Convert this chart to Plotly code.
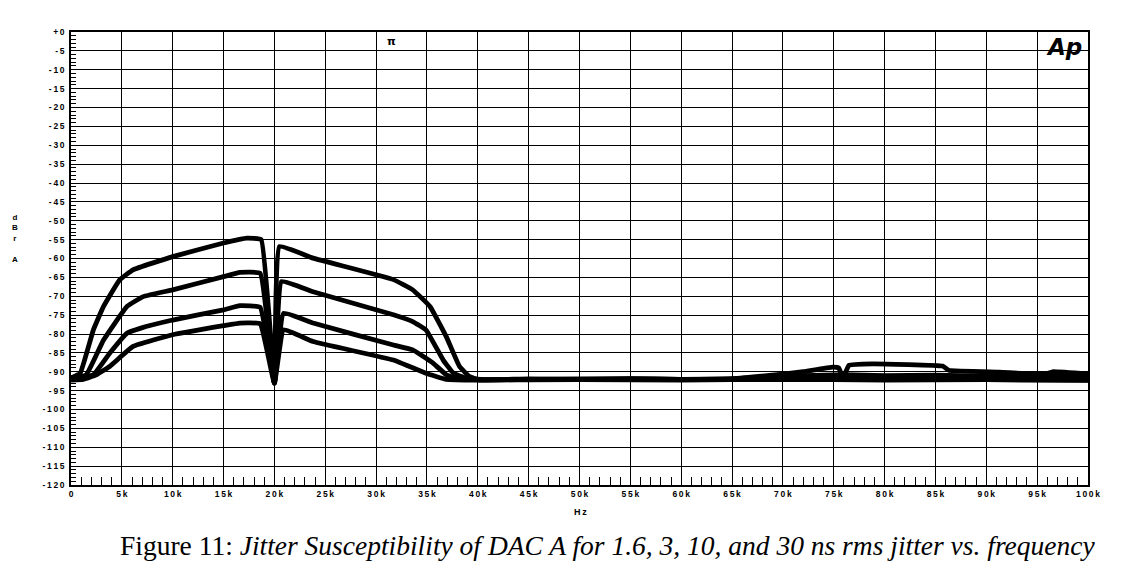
import plotly.graph_objects as go

# Frequencies in kHz, levels in dBr A
freq_30ns = [0, 0.9, 2.2, 3.2, 4.8, 6.1, 10.0, 15.0, 17.3, 18.7, 20.0, 20.5, 23.8, 31.7, 33.6,
             35.3, 36.9, 38.2, 39.2, 40.2, 45, 50, 55, 60, 65, 70, 72, 74.9, 75.5, 75.9, 76.5,
             78.8, 85.7, 86.3, 91.3, 95.8, 96.5, 100]
db_30ns = [-91.6, -90.4, -78.9, -72.7, -65.6, -63.0, -59.5, -55.9, -54.6, -55.0, -93.0, -56.8,
           -59.9, -65.6, -68.3, -72.7, -80.7, -88.6, -91.3, -92.2, -92.0, -92.1, -91.9, -92.0,
           -91.8, -90.6, -90.0, -88.8, -89.0, -91.7, -88.3, -87.9, -88.5, -89.6, -90.1, -90.7,
           -90.0, -90.6]

freq_10ns = [0, 1.5, 3.2, 5.5, 7.1, 10.0, 15.0, 16.6, 18.6, 20.0, 20.7, 23.8, 31.7, 33.6, 34.9,
             36.6, 37.6, 38.9, 41, 45, 50, 55, 60, 65, 69, 72, 76, 80, 85, 90, 95, 100]
db_10ns = [-91.8, -90.8, -81.6, -72.7, -70.1, -68.3, -64.8, -63.7, -63.9, -93.0, -66.1, -68.8,
           -74.9, -76.7, -78.9, -86.9, -90.4, -91.7, -92.1, -91.9, -92.0, -91.8, -92.0, -91.9,
           -91.6, -91.0, -90.8, -91.0, -90.9, -91.1, -91.0, -91.2]

freq_3ns = [0, 2.2, 3.8, 5.5, 6.8, 10.0, 15.0, 16.6, 18.6, 20.0, 20.9, 23.8, 31.7, 33.6, 35.6,
            36.9, 38.2, 42, 50, 60, 70, 80, 90, 100]
db_3ns = [-92.0, -90.8, -85.1, -79.8, -78.5, -76.3, -73.6, -72.5, -72.9, -93.0, -74.5, -77.1,
          -82.9, -84.2, -87.7, -90.8, -92.0, -92.1, -91.9, -92.0, -92.1, -92.0, -92.1, -92.2]

freq_1p6ns = [0, 1.2, 2.5, 3.8, 6.1, 10.0, 15.0, 16.6, 18.6, 20.0, 20.9, 23.8, 31.7, 34.9,
              36.9, 40, 50, 60, 70, 80, 90, 100]
db_1p6ns = [-92.2, -92.0, -90.8, -88.6, -83.3, -80.2, -77.8, -77.1, -77.3, -93.0, -78.9, -82.0,
            -86.9, -90.4, -92.0, -92.2, -92.1, -92.2, -92.0, -92.2, -92.1, -92.3]

series = [(freq_30ns, db_30ns), (freq_10ns, db_10ns), (freq_3ns, db_3ns), (freq_1p6ns, db_1p6ns)]

x_tickvals = list(range(0, 100001, 5000))
x_ticktext = ["0"] + [f"{v // 1000}k" for v in x_tickvals[1:]]
y_tickvals = list(range(0, -121, -5))
y_ticktext = ["+0"] + [str(v) for v in y_tickvals[1:]]


def spaced(s):
    return "\u2009".join(s)


fig = go.Figure()
for f, d in series:
    fig.add_trace(go.Scatter(x=[v * 1000 for v in f], y=d, mode="lines",
                             line=dict(color="black", width=4.8, shape="spline", smoothing=0.3),
                             showlegend=False, hoverinfo="skip"))

tickfont = dict(family="Liberation Sans", size=8.5, color="black", weight="bold")

fig.update_layout(
    width=1130, height=582,
    margin=dict(l=71, r=42, t=32, b=97),
    paper_bgcolor="white", plot_bgcolor="white",
    xaxis=dict(range=[0, 100000], tickvals=x_tickvals, ticktext=[spaced(t) for t in x_ticktext],
               tickfont=tickfont, showgrid=True, gridcolor="black", gridwidth=1,
               ticks="inside", ticklen=8, tickcolor="black", tickwidth=1,
               minor=dict(dtick=1000, ticks="inside", ticklen=8, tickcolor="black",
                          tickwidth=1, showgrid=False),
               showline=True, linecolor="black", linewidth=1.5, mirror=True,
               zeroline=False, fixedrange=True),
    yaxis=dict(range=[-120, 0], tickvals=y_tickvals, ticktext=[spaced(t) for t in y_ticktext],
               tickfont=tickfont, showgrid=True, gridcolor="black", gridwidth=1,
               ticks="inside", ticklen=6, tickcolor="black", tickwidth=1,
               minor=dict(dtick=1, ticks="inside", ticklen=5, tickcolor="black",
                          tickwidth=1, showgrid=False),
               showline=True, linecolor="black", linewidth=1.5, mirror=True,
               zeroline=False, ticklabelstandoff=3, fixedrange=True),
    annotations=[
        dict(text="d<br>B<br>r<br><br>A", xref="paper", yref="paper", x=-0.055, y=0.545,
             showarrow=False, xanchor="center", yanchor="middle",
             font=dict(family="Liberation Sans", size=8, color="black", weight="bold")),
        dict(text=spaced("Hz"), xref="paper", yref="paper", x=0.5005, y=-0.045,
             showarrow=False, xanchor="center", yanchor="top",
             font=dict(family="Liberation Sans", size=9, color="black", weight="bold")),
        dict(text="<b><i>Ap</i></b>", xref="paper", yref="paper", x=0.9965, y=1.0,
             showarrow=False, xanchor="right", yanchor="top",
             font=dict(family="DejaVu Sans", size=23, color="black")),
        dict(text="<b>π</b>", xref="paper", yref="paper", x=0.315, y=0.998,
             showarrow=False, xanchor="center", yanchor="top",
             font=dict(family="DejaVu Sans", size=11, color="black")),
        dict(text="Figure 11: <i>Jitter Susceptibility of DAC A for 1.6, 3, 10, and 30 ns rms jitter vs. frequency</i>",
             xref="paper", yref="paper", x=0.528, y=-0.095,
             showarrow=False, xanchor="center", yanchor="top",
             font=dict(family="Liberation Serif", size=27.5, color="black")),
    ],
)

fig.write_html("out.html")
